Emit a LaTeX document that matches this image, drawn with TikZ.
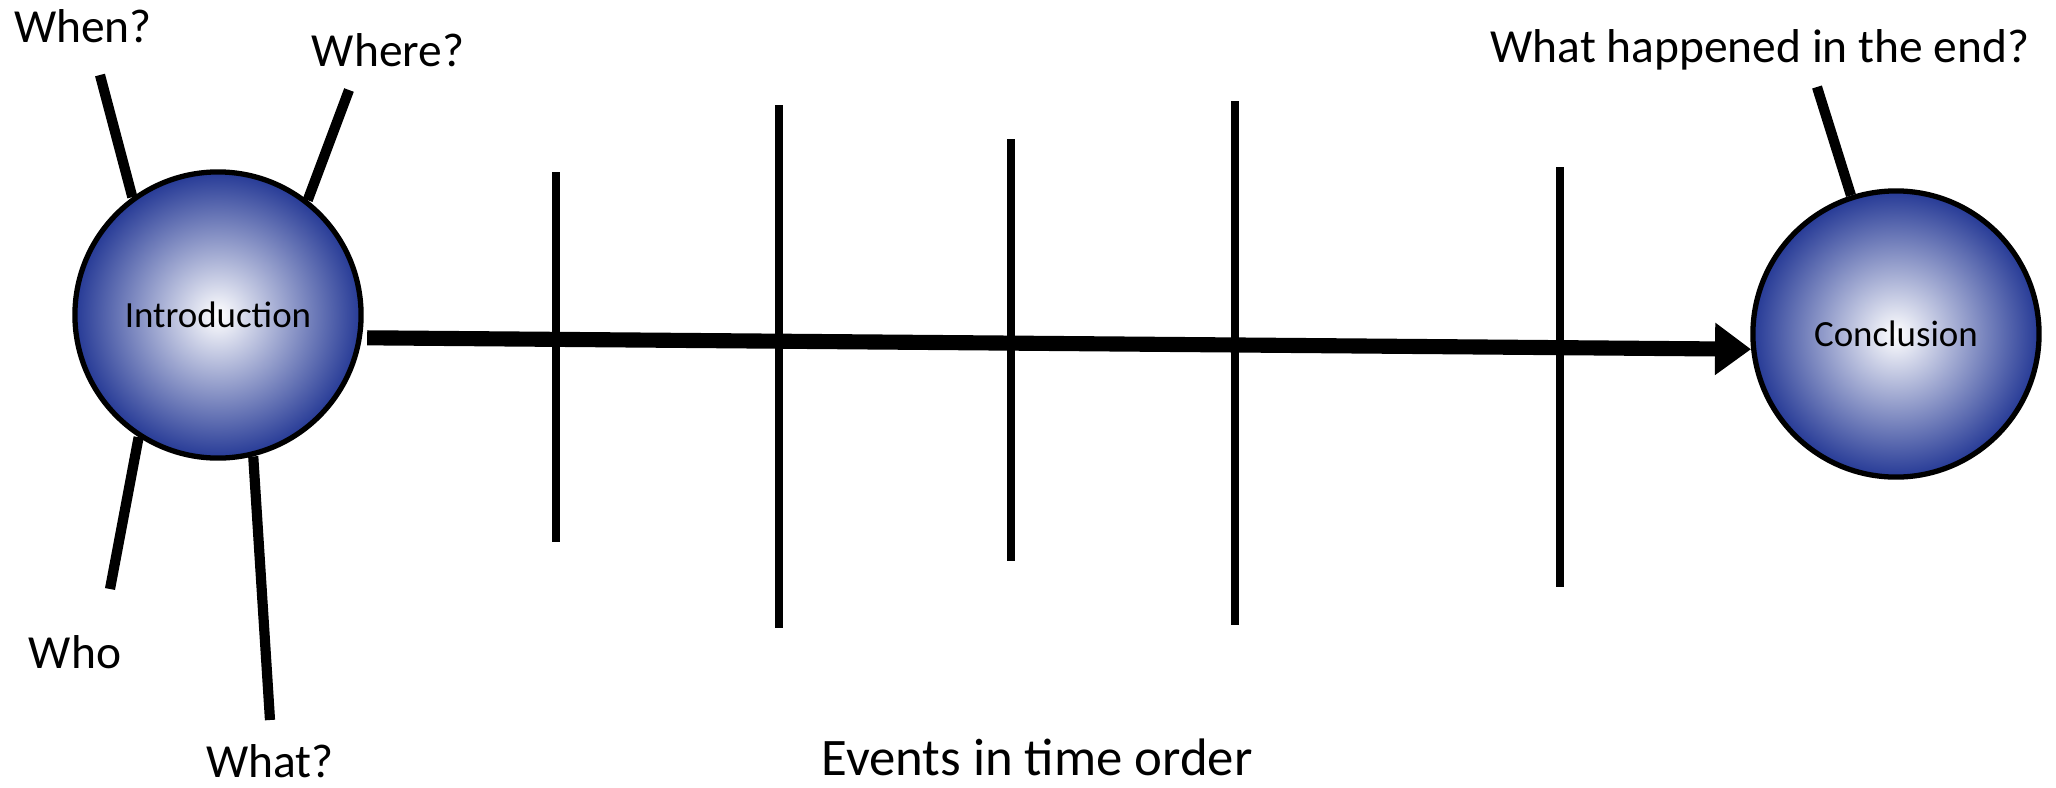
\documentclass[tikz,border=0pt]{standalone}
\usepackage{fontspec}
\setmainfont{Carlito}
\usetikzlibrary{arrows.meta}
\begin{document}
\begin{tikzpicture}[x=0.01cm,y=-0.01cm,
  ball/.style={circle,draw=black,line width=1.5pt,minimum size=2.86cm,inner sep=0pt,
    inner color=white,outer color={rgb,255:red,38;green,58;blue,150},font=\fontsize{10.5}{12}\selectfont},
  spoke/.style={line width=2.9pt},
  tick/.style={line width=2.3pt},
  lbl/.style={inner sep=0pt,font=\fontsize{13.5}{16}\selectfont}]
\useasboundingbox (0,0) rectangle (2056,787);
\node[ball] (intro) at (218,315) {Introduction};
\node[ball] (concl) at (1896,334) {Conclusion};
% event ticks
\foreach \x/\t/\b in {556/172/542,779/105/628,1011/139/561,1235/101/625,1560/167/587}
  \draw[tick] (\x,\t)--(\x,\b);
\draw[line width=4.3pt,-{Triangle[length=0.36cm,width=0.5cm]}] ([xshift=1.5pt]intro.-9)--(concl.186);
% questions
\node[lbl] (when) at (83,26) {When?};       \coordinate (whenend) at (100,75);   \draw[spoke] (intro.126)--(whenend);
\node[lbl] (where) at (388,50) {Where?};    \coordinate (whereend) at (349,90);  \draw[spoke] (intro.52)--(whereend);
\node[lbl] (who) at (75,652) {Who};         \coordinate (whoend) at (110,589);   \draw[spoke] (intro.-123)--(whoend);
\node[lbl] (what) at (270,761) {What?};     \coordinate (whatend) at (270,720);  \draw[spoke] (intro.-76)--(whatend);
\node[lbl] (end) at (1760,50) {What happened in the end?}; \coordinate (endend) at (1817,87); \draw[spoke] (concl.108)--(endend);
\node[lbl,font=\fontsize{15}{18}\selectfont] (events) at (1037,757) {Events in time order};
\end{tikzpicture}
\end{document}
